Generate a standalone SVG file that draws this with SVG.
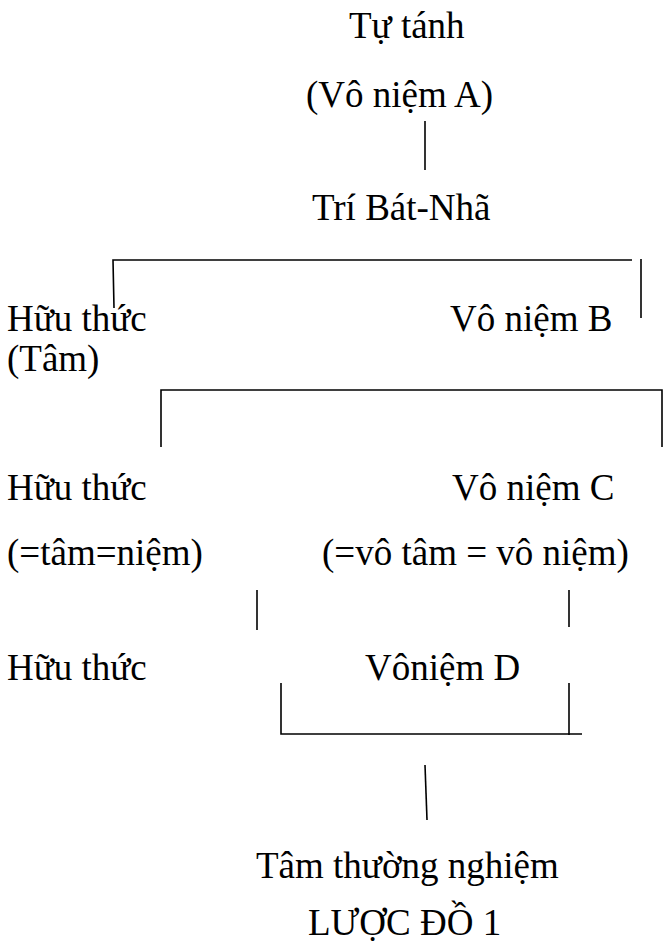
<svg xmlns="http://www.w3.org/2000/svg" width="665" height="949" viewBox="0 0 665 949">
  <style>
    .t { font-family: 'Liberation Serif', 'Times New Roman', serif; font-size: 37px; fill: #000; }
    .ln { stroke: #000; stroke-width: 1.6; fill: none; }
  </style>
  <rect width="665" height="949" fill="#fff"/>

  <g class="t">
    <g id="tu-tanh"><text x="349" y="38">Tự tánh</text></g>
    <g id="vo-niem-a"><text x="306" y="107">(Vô niệm A)</text></g>
    <g id="tri-bat-nha"><text x="312" y="220">Trí Bát-Nhã</text></g>

    <g id="huu-thuc-1"><text x="7" y="331">Hữu thức</text><text x="7" y="371">(Tâm)</text></g>
    <g id="vo-niem-b"><text x="450" y="331">Vô niệm B</text></g>

    <g id="huu-thuc-2"><text x="7" y="500">Hữu thức</text><text x="7" y="565">(=tâm=niệm)</text></g>
    <g id="vo-niem-c"><text x="452" y="500">Vô niệm C</text><text x="322" y="565">(=vô tâm = vô niệm)</text></g>

    <g id="huu-thuc-3"><text x="7" y="680">Hữu thức</text></g>
    <g id="vo-niem-d"><text x="365" y="680">Vôniệm D</text></g>

    <g id="tam-thuong-nghiem"><text x="256" y="878">Tâm thường nghiệm</text></g>
    <g id="caption"><text x="308" y="935">LƯỢC ĐỒ 1</text></g>
  </g>

  <g id="connectors" class="ln">
    <!-- A down to Prajna -->
    <line x1="425" y1="121" x2="425" y2="170"/>
    <!-- first split -->
    <path d="M114 308 L113 260 L632 260"/>
    <line x1="641" y1="259" x2="641" y2="318"/>
    <!-- second split -->
    <path d="M161 447 L161 390 L662 390 L662 447"/>
    <!-- drops under row C -->
    <line x1="257" y1="590" x2="257" y2="630"/>
    <line x1="569" y1="590" x2="569" y2="627"/>
    <!-- joining bracket under D -->
    <path d="M281 683 L281 734 L582 734"/>
    <line x1="569" y1="683" x2="569" y2="735"/>
    <!-- down to the final node -->
    <line x1="425" y1="765" x2="427" y2="820"/>
  </g>
</svg>
